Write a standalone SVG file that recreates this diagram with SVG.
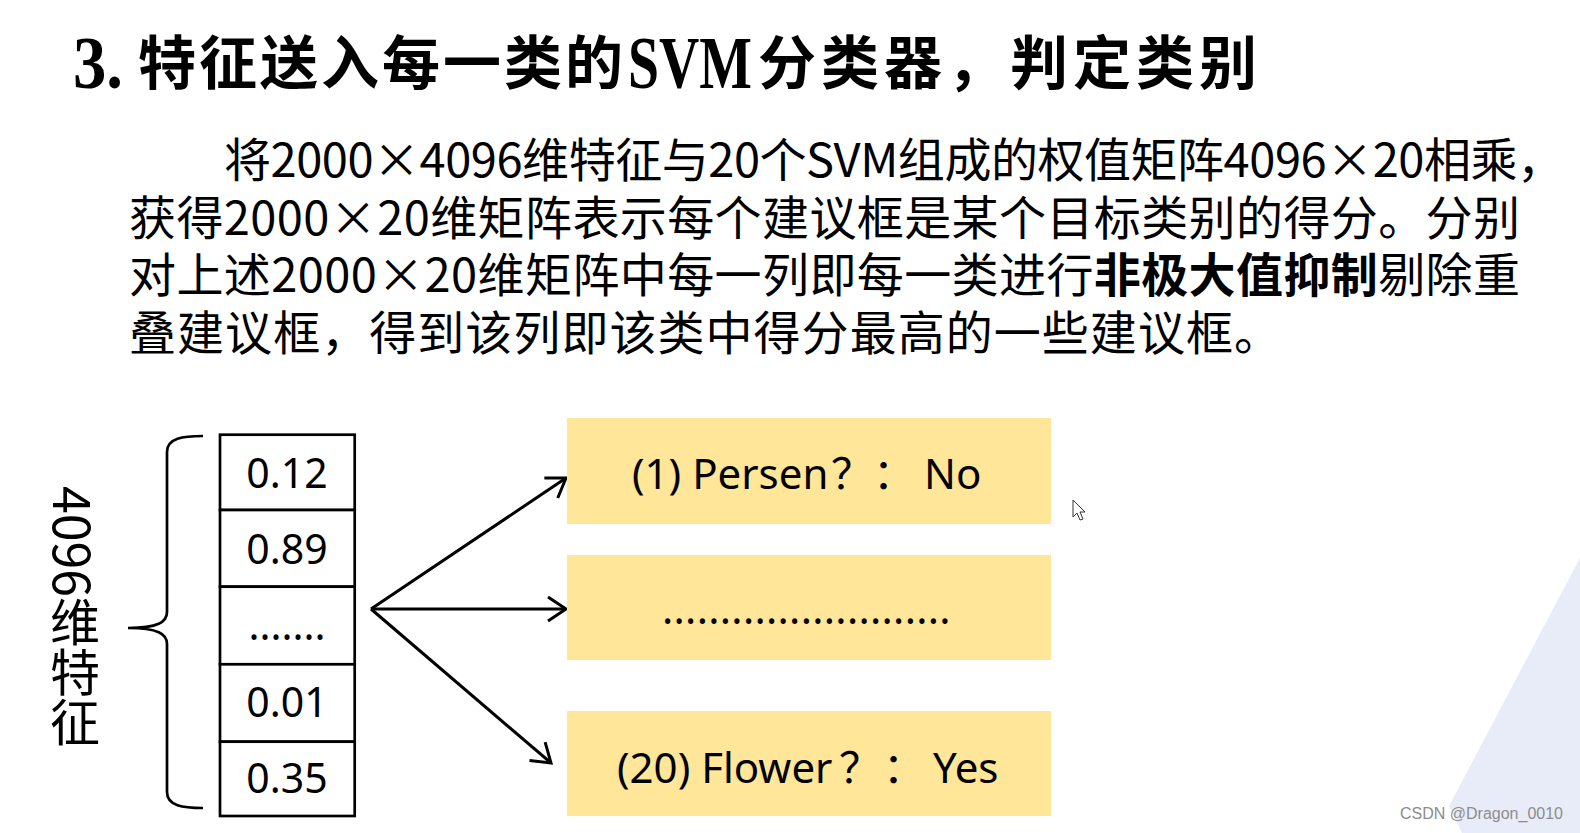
<svg xmlns="http://www.w3.org/2000/svg" width="1580" height="833" viewBox="0 0 1580 833">
<style>
.title{font-family:"Noto Sans CJK SC",sans-serif;font-weight:700;font-size:58px;fill:#000}
.tlat{font-family:"Liberation Serif","Noto Sans CJK SC",serif;font-weight:700;font-size:74px;fill:#000}
.para{font-family:"Noto Sans CJK SC",sans-serif;font-size:47px;fill:#000}
.cell{fill:#fff;stroke:#000;stroke-width:2.7}
.num{font-family:"Noto Sans","Noto Sans CJK SC",sans-serif;font-size:41px;text-anchor:middle;fill:#000}
.box{fill:#FFE699}
.lbl{font-family:"Noto Sans","Noto Sans CJK SC",sans-serif;font-size:42px;fill:#000}
.conn{stroke:#000;stroke-width:3;fill:none;marker-end:url(#arr)}
.brace{stroke:#000;stroke-width:2.7;fill:none}
</style>
<defs>
<marker id="arr" markerUnits="userSpaceOnUse" markerWidth="30" markerHeight="30" viewBox="0 0 30 30" refX="26" refY="15" orient="auto">
<path d="M8,3 L26,15 L8,27" fill="none" stroke="#000" stroke-width="3"/>
</marker>
</defs>
<rect width="1580" height="833" fill="#fff"/>
<polygon points="1580,558 1449,806 1462,833 1580,833" fill="#E8ECF8"/>

<g id="title">
<text class="tlat" x="73" y="88" textLength="50" lengthAdjust="spacingAndGlyphs">3.</text>
<text class="title" x="138" y="84" letter-spacing="3">特征送入每一类的</text>
<text class="tlat" x="628" y="88" textLength="124" lengthAdjust="spacingAndGlyphs">SVM</text>
<text class="title" x="758" y="84" letter-spacing="5">分类器，判定类别</text>
</g>

<g id="paragraph" class="para">
<text class="para" x="224" y="177" textLength="1340" lengthAdjust="spacing">将2000×4096维特征与20个SVM组成的权值矩阵4096×20相乘，</text>
<text class="para" x="129" y="234.5" textLength="1391" lengthAdjust="spacing">获得2000×20维矩阵表示每个建议框是某个目标类别的得分。分别</text>
<text class="para" x="129" y="292" textLength="1391" lengthAdjust="spacing">对上述2000×20维矩阵中每一列即每一类进行<tspan font-weight="700">非极大值抑制</tspan>剔除重</text>
<text class="para" x="129" y="349.5" textLength="1152" lengthAdjust="spacing">叠建议框，得到该列即该类中得分最高的一些建议框。</text>
</g>

<g id="feature-label">
<text x="75" y="486" font-family="Noto Sans CJK SC, sans-serif" font-size="50" style="writing-mode:vertical-rl">4096维特征</text>
</g>

<g id="brace">
<path class="brace" d="M203,436 C183,436 167,438 167,452 L167,612 C167,622 158,628 128,628 C158,628 167,634 167,644 L167,792 C167,806 183,808 203,808"/>
</g>

<g id="vector">
<rect class="cell" x="220" y="434.7" width="134.7" height="75.3"/>
<rect class="cell" x="220" y="510" width="134.7" height="76.7"/>
<rect class="cell" x="220" y="586.7" width="134.7" height="77.6"/>
<rect class="cell" x="220" y="664.3" width="134.7" height="77.4"/>
<rect class="cell" x="220" y="741.7" width="134.7" height="74.3"/>
<text class="num" x="287" y="488">0.12</text>
<text class="num" x="287" y="563.5">0.89</text>
<text class="num" x="287" y="640">.......</text>
<text class="num" x="287" y="717">0.01</text>
<text class="num" x="287" y="793">0.35</text>
</g>

<g id="connectors">
<line class="conn" x1="371" y1="609" x2="566" y2="478"/>
<line class="conn" x1="371" y1="609" x2="566" y2="609"/>
<line class="conn" x1="371" y1="609" x2="551" y2="763"/>
</g>

<g id="class1">
<rect class="box" x="567" y="418" width="484" height="106"/>
<text class="lbl" y="489"><tspan x="632">(1) Persen</tspan><tspan x="831">？</tspan><tspan x="873">：</tspan><tspan x="924">No</tspan></text>
</g>
<g id="class-more">
<rect class="box" x="567" y="555" width="484" height="105"/>
<text class="lbl" x="662" y="624" letter-spacing="0.3">.........................</text>
</g>
<g id="class20">
<rect class="box" x="567" y="711" width="484" height="105"/>
<text class="lbl" y="783"><tspan x="617">(20) Flower</tspan><tspan x="839">？</tspan><tspan x="883">：</tspan><tspan x="933">Yes</tspan></text>
</g>

<g id="cursor">
<path d="M0,0 L0,17 L4,13 L7,20 L10,19 L7,12 L12,12 Z" transform="translate(1073,500)" fill="#fff" stroke="#333" stroke-width="1"/>
</g>

<text x="1563" y="819" text-anchor="end" font-family="Liberation Sans, sans-serif" font-size="16" fill="#8c8c8c">CSDN @Dragon_0010</text>
</svg>
